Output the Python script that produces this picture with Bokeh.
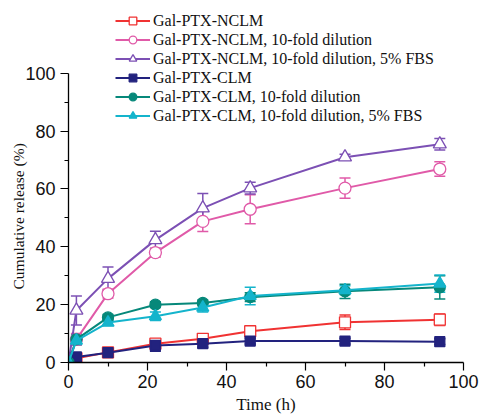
from bokeh.plotting import figure
from bokeh.models import Legend, LegendItem, Whisker, TeeHead, ColumnDataSource, FixedTicker, Title
from bokeh.embed import file_html
from bokeh.resources import INLINE

time = [0, 2, 10, 22, 34, 46, 70, 94]

names = [
    "Gal-PTX-NCLM",
    "Gal-PTX-NCLM, 10-fold dilution",
    "Gal-PTX-NCLM, 10-fold dilution, 5% FBS",
    "Gal-PTX-CLM",
    "Gal-PTX-CLM, 10-fold dilution",
    "Gal-PTX-CLM, 10-fold dilution, 5% FBS",
]

nclm = [0, 1.5, 3.5, 6.5, 8.2, 10.8, 13.9, 14.8]
nclm_err = [0, 1.0, 1.0, 1.0, 1.2, 1.5, 2.5, 2.0]
nclm_dil = [0, 8.0, 23.8, 38.0, 48.8, 53.0, 60.3, 66.9]
nclm_dil_err = [0, 2.0, 1.5, 1.5, 3.5, 5.0, 3.5, 2.5]
nclm_fbs = [0, 18.0, 29.0, 42.4, 53.4, 60.3, 71.0, 75.5]
nclm_fbs_err = [0, 5.0, 4.0, 3.0, 5.0, 2.0, 1.0, 2.0]
clm = [0, 1.9, 3.4, 5.9, 6.5, 7.4, 7.4, 7.2]
clm_err = [0, 1.0, 1.0, 2.0, 1.2, 1.0, 1.0, 1.0]
clm_dil = [0, 8.0, 15.6, 20.0, 20.6, 22.6, 24.6, 26.0]
clm_dil_err = [0, 1.5, 1.0, 1.0, 1.0, 1.5, 2.5, 4.0]
clm_fbs = [0, 7.6, 13.8, 16.0, 19.0, 23.0, 25.0, 27.3]
clm_fbs_err = [0, 1.5, 1.0, 1.5, 1.5, 3.0, 1.5, 3.0]

series = [nclm, nclm_dil, nclm_fbs, clm, clm_dil, clm_fbs]
errors = [nclm_err, nclm_dil_err, nclm_fbs_err, clm_err, clm_dil_err, clm_fbs_err]
colors = ["#f03232", "#e05aa8", "#7c50b4", "#22227e", "#06887a", "#14b4cc"]
markers = ["square", "circle", "triangle", "square", "circle", "triangle"]
filled = [False, False, False, True, True, True]
sizes = [11, 12, 13, 10, 11, 12]

# frame: top at pixel 5, y=100 at pixel 73, y=0 at pixel 363
top_px = 5
y_end = (363 - top_px) / 2.9

p = figure(width=479, height=416, x_range=(0, 100), y_range=(0, y_end),
           output_backend="svg", toolbar_location=None,
           min_border_left=68, min_border_right=16, min_border_top=top_px, min_border_bottom=53)
p.outline_line_color = None
p.grid.visible = False
p.background_fill_color = "white"

items = []
for ys, es, c, m, f, s, n in zip(series, errors, colors, markers, filled, sizes, names):
    src = ColumnDataSource(dict(x=time, y=ys,
                                lo=[a - b for a, b in zip(ys, es)],
                                hi=[a + b for a, b in zip(ys, es)]))
    w = Whisker(source=src, base="x", lower="lo", upper="hi", line_color=c, line_width=1.5,
                upper_head=TeeHead(size=11, line_color=c, line_width=1.5),
                lower_head=TeeHead(size=11, line_color=c, line_width=1.5))
    p.add_layout(w)
    r1 = p.line("x", "y", source=src, line_color=c, line_width=2)
    r2 = p.scatter("x", "y", source=src, marker=m, size=s, line_color=c, line_width=1.3,
                   fill_color=c if f else "white")
    items.append(LegendItem(label=n, renderers=[r1, r2]))

legend = Legend(items=items, location=(47, 237), padding=0, margin=0, spacing=0,
                glyph_width=35, glyph_height=19, label_height=19, label_standoff=3,
                label_text_font="Liberation Serif", label_text_font_size="16px",
                label_text_color="#111111", border_line_color=None,
                background_fill_alpha=0)
p.add_layout(legend, "center")

for ax in (p.xaxis[0], p.yaxis[0]):
    ax.bounds = (0, 100)
    ax.axis_line_color = "black"
    ax.axis_line_width = 1.3
    ax.major_tick_line_color = "black"
    ax.minor_tick_line_color = "black"
    ax.major_tick_line_width = 1.2
    ax.minor_tick_line_width = 1.2
    ax.major_tick_out = 8
    ax.major_tick_in = 0
    ax.minor_tick_out = 4
    ax.minor_tick_in = 0
    ax.major_label_text_font = "Liberation Sans"
    ax.major_label_text_font_size = "18px"
    ax.major_label_text_color = "#111111"
    ax.axis_label_text_font = "Liberation Serif"
    ax.axis_label_text_font_style = "normal"
    ax.axis_label_text_font_size = "17px"
    ax.axis_label_text_color = "#111111"

p.xaxis.ticker = FixedTicker(ticks=[0, 20, 40, 60, 80, 100], minor_ticks=[10, 30, 50, 70, 90])
p.yaxis.ticker = FixedTicker(ticks=[0, 20, 40, 60, 80, 100], minor_ticks=[10, 30, 50, 70, 90])
p.xaxis.axis_label = "Time (h)"
p.xaxis.major_label_standoff = 4
p.yaxis.major_label_standoff = 5
p.xaxis.axis_label_standoff = 4

ytitle = Title(text="Cumulative release (%)", align="left", offset=73, standoff=-8,
               text_font="Liberation Serif", text_font_size="15.5px", text_font_style="normal",
               text_color="#111111")
p.add_layout(ytitle, "left")

open("out.html", "w").write(file_html(p, INLINE))
